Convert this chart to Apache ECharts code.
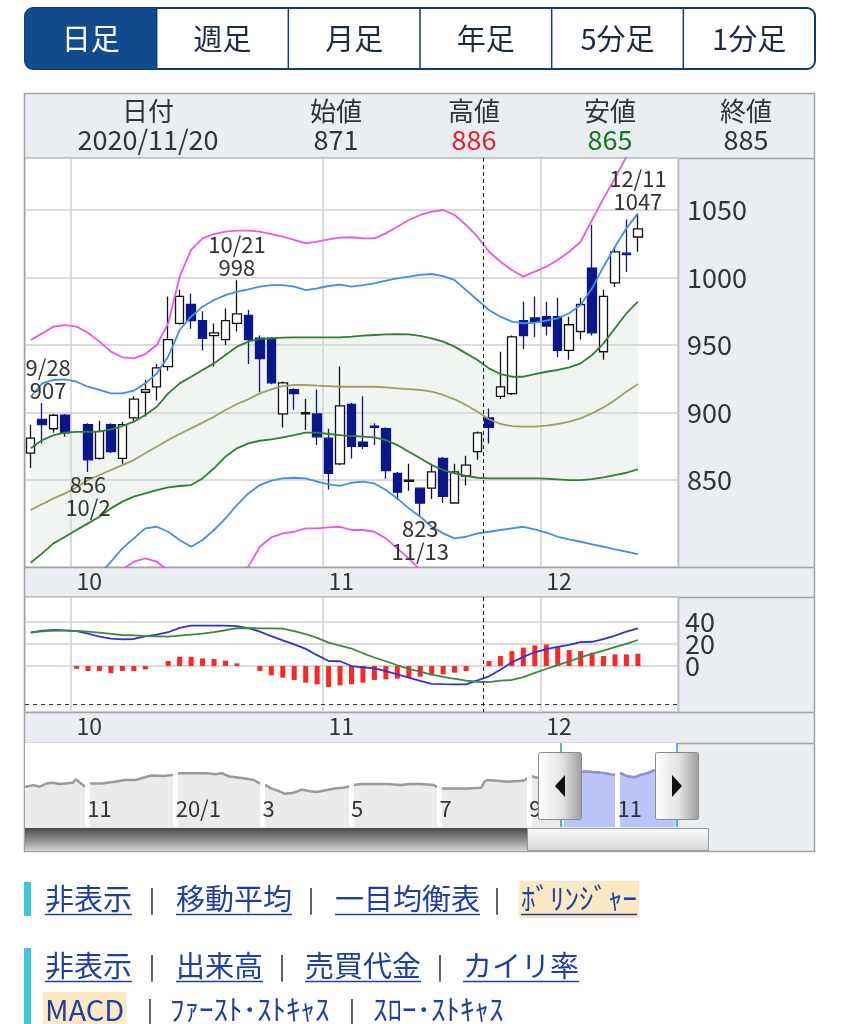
<!DOCTYPE html>
<html><head><meta charset="utf-8">
<script src="https://cdn.jsdelivr.net/npm/echarts@6/dist/echarts.min.js"></script>
<style>html,body{margin:0;padding:0;background:#fff;}#c{width:841px;height:1024px;}</style>
</head><body><div id="c"></div>
<script>
// ---------------- DATA ----------------
const dates = ['9/25','9/28','9/29','9/30','10/1','10/2','10/5','10/6','10/7','10/8','10/9','10/12','10/13','10/14','10/15','10/16','10/19','10/20','10/21','10/22','10/23','10/26','10/27','10/28','10/29','10/30','11/2','11/4','11/5','11/6','11/9','11/10','11/11','11/12','11/13','11/16','11/17','11/18','11/19','11/20','11/24','11/25','11/26','11/27','11/30','12/1','12/2','12/3','12/4','12/7','12/8','12/9','12/10','12/11'];
const padDates = ['12/14','12/15','12/16'];
const opens  = [870,895,888,898,null,891,866,891,866,896,915,919,934,966,980,968,957,954,966,972,955,955,899,917,899,899,881,862,906,878,890,888,855,849,844,844,866,833,853,871,896,912,914,968,970,971,971,946,960,1007,945,996,1018,1030];
const highs  = [891,907,899,899,null,892,894,892,893,912,924,936,986,991,988,975,966,977,998,976,957,956,923,918,910,917,888,934,907,912,892,889,856,862,844,862,867,862,868,886,903,945,957,982,986,982,985,971,985,1039,991,1023,1043,1047];
const lows   = [859,877,885,882,null,856,865,870,862,893,897,909,931,965,962,946,934,950,960,936,915,921,889,902,887,876,843,861,866,873,876,851,835,842,823,836,833,833,846,865,877,910,913,947,956,957,941,939,954,957,939,993,1004,1019];
const closes = [881,891,898,885,null,865,886,871,891,910,917,933,954,986,968,955,959,968,973,954,940,922,922,914,900,882,855,905,875,875,889,857,841,850,833,856,838,856,861,885,889,919,956,957,967,964,946,965,980,959,986,1019,1017,1036];

// Bollinger bands
const bbUp3 = [953.7,958.6,963.6,964.8,963.6,959.1,952.5,945.1,940.9,940.1,943.3,950,966,1000.6,1020.4,1029,1032.2,1034,1034.7,1034.7,1034,1032.2,1030.2,1027.8,1025.3,1026.5,1028.3,1029.5,1029.8,1029,1029,1032.7,1037.6,1042.6,1046.3,1048.8,1050,1046.3,1038.9,1030.2,1019.1,1011.7,1005.6,1000.6,1004.3,1008,1013,1019.1,1026.5,1042.6,1058.6,1073.5,1089.5,1104];
const bbUp2 = [911.7,921.6,924.1,924.6,922.8,919.1,916.7,914.2,914.2,916.2,921.6,929,941.4,961.1,971,978.4,983.3,987,989.5,991.2,993.2,994.4,994.4,993.2,990.7,992,993.7,994.7,993.2,994.4,995.7,997.7,999.4,1000.6,1001.9,1002.6,1001.1,998.1,990.7,983.3,975.9,971,967.3,966.1,966.5,968,969.8,973.5,979.6,992,1008,1022.8,1036.4,1047.5];
const bbUp1 = [873.5,879.6,883.3,885.1,885.6,885.6,885.8,887.5,890,893.2,898.2,904.3,914.2,921.6,926.5,931.5,936.4,942.6,948.8,952.5,954.5,954.9,955.4,955.7,955.7,955.7,955.7,955.7,956.2,956.9,957.4,957.9,958.1,957.9,956.7,954.9,952.5,948.8,943.8,938.9,932.7,928.5,926.5,926.5,928.5,930.2,931.5,933.5,936.4,942.6,951.2,962.4,973.5,982.1];
const bbMid = [827.8,832.2,836.4,840.1,844.6,850,853.7,857.4,861.1,864.8,869.8,874.7,879.6,884.1,888.3,892.5,896.9,901.9,906.3,909.8,914.2,917.2,919.6,920.4,920.4,919.9,919.6,919.1,919.1,919.1,919.1,918.6,917.9,917.4,916.7,915.4,913,909.8,905.6,900.6,895,891.5,890,889.5,889.5,890.3,891.5,893.2,895.7,899.4,903.8,909.3,915.4,921.1];
const bbLow1 = [788.8,795.7,803.1,808,813,817.9,822.8,829,834,837.7,840.1,842.6,844.6,845.6,846.3,851.2,858.7,867.3,873.5,877.2,879.1,880.1,881.6,883.3,885.1,885.1,884.1,883.3,882.6,882.1,881.6,879.6,875.9,871,866.1,861.1,857.4,855,853,851.7,851.2,851.2,851.2,851.2,851.2,851,850.5,850,850,850.7,852,853.7,855.4,857.9];
const bbLow2 = [750,755,760,765,770,775,780,789.5,799.4,806.8,814.2,815.4,811.7,805.6,800.6,805.6,813,821.6,831.5,840.1,846.3,849.5,851.2,851.7,851.2,848.8,846.8,845.6,848,848.8,847.5,842.6,836.4,829,822.8,815.4,810.5,806.8,808,810.5,811.7,813,814.2,815.4,813.5,811,808,806,804.3,802.4,800.6,798.7,796.9,795.2];
const bbLow3 = [711,715,720,725,730,735,740,750,783.8,789.5,792,789.5,782.9,770,765,770,775,780,782.1,785.8,800.6,807.5,810.5,811.7,814.2,814.2,814.9,815.4,813,813,811.7,806.8,799.4,792,783.4,778,772,768,766,765,766,770,773,776,777,778,778,776,775,772,765,755,748,740];

// MACD panel
const macdLine = [30.1,32,32.5,32.2,31.5,29.2,26.5,24.7,24.1,24.4,26.8,28.4,30.5,34.5,36.4,36.4,36.4,36.4,36.1,34.2,31,26.9,23.2,19.6,15.5,9.8,4.5,4.3,0,-1.3,-2.1,-4.7,-7.5,-10.5,-13.5,-16.2,-16.4,-16.5,-16.5,-13,-9.3,-3.4,3.4,8.2,12.4,15.3,17.3,19.1,21.5,21.9,24.2,27.5,31,34];
const signalLine = [30.1,31.2,31.9,31.9,31.7,31.1,30.1,29.1,28,27.6,27.1,26.8,26.5,27.4,28.3,29.2,30.6,32.3,34.1,34.3,34,34,33.7,31.5,28.9,25.4,21.1,18.3,15.8,11.5,7.7,4.3,0.7,-2.6,-5.1,-7.8,-9.7,-11.5,-13.2,-14.2,-14.6,-13.2,-12.6,-10,-6.2,-2.7,0.9,4.2,7.8,11,14,17,20,23.5];
const macdHist = [null,null,null,null,-2.5,-4.5,-4.5,-6.5,-4.5,-4.5,-3,0,4.5,8.4,8.4,6.9,6.3,4.8,2.4,0,-4.5,-8.4,-10.5,-12.6,-15,-16.5,-18.9,-17.4,-16.5,-15,-12.6,-12,-11.4,-10.5,-9.6,-8.4,-7.5,-6,-4.5,0,4.5,9,13.5,16.5,18.6,19.5,17.4,14.4,13.5,12,9,10.5,10.5,11.1];
const macdBaseline = -34.5;

// tick labels
const priceTicks = [850,900,950,1000,1050];
const macdTicks = [0,20,40];
const monthStartCats = ['10/1','11/2','12/1'];
const monthLabels = ['10','11','12'];

// annotations (period highs / lows)
const annotDates  = ['9/28','10/2','10/21','11/13','12/11'];
const annotValues = [907,856,998,823,1047];
const annotKinds  = ['high','low','high','low','high'];

// selected day
const cursorDate = '11/20';
const headerLabels = ['日付','始値','高値','安値','終値'];
const headerValues = ['2020/11/20','871','886','865','885'];

// navigator (long range)
const navDates = ['2019-09-19','2019-09-25','2019-09-29','2019-10-04','2019-10-08','2019-10-13','2019-10-17','2019-10-22','2019-10-24','2019-10-27','2019-10-30','2019-11-03','2019-11-11','2019-11-20','2019-11-27','2019-12-04','2019-12-11','2019-12-15','2019-12-24','2019-12-30','2020-01-04','2020-01-13','2020-01-23','2020-01-28','2020-02-02','2020-02-07','2020-02-17','2020-02-24','2020-02-27','2020-03-03','2020-03-07','2020-03-12','2020-03-16','2020-03-21','2020-03-24','2020-03-28','2020-04-02','2020-04-07','2020-04-11','2020-04-16','2020-04-20','2020-04-25','2020-04-29','2020-05-03','2020-05-08','2020-05-17','2020-05-26','2020-06-04','2020-06-11','2020-06-18','2020-06-27','2020-07-02','2020-07-11','2020-07-20','2020-07-30','2020-08-01','2020-08-03','2020-08-10','2020-08-17','2020-08-27','2020-08-29','2020-09-02','2020-09-05','2020-09-10','2020-09-17','2020-09-25','2020-10-02','2020-10-09','2020-10-16','2020-10-23','2020-10-29','2020-11-03','2020-11-08','2020-11-13','2020-11-17','2020-11-22','2020-11-26','2020-12-04','2020-12-11'];
const navValues = [644,678,644,711,725,698,711,725,792,725,657,711,711,745,779,779,833,867,860,880,914,914,914,894,914,846,813,779,725,678,610,563,509,522,543,590,563,543,563,590,610,624,644,678,698,698,698,678,698,698,678,610,610,610,624,745,779,765,745,765,779,860,833,813,850,881,865,948,934,914,880,914,846,833,880,914,968,980,1036];
const navMonthDates = ['2019-11-01','2020-01-01','2020-03-01','2020-05-01','2020-07-01','2020-09-01','2020-11-01'];
const navMonthLabels = ['11','20/1','3','5','7','9','11'];
const navStart = '2019-09-19', navEnd = '2020-12-12', selStart = '2020-09-23';

const tabs = ['日足','週足','月足','年足','5分足','1分足'];
const linkRows = [
  {y:899, items:[['非表示',45],['|',152],['移動平均',176],['|',311],['一目均衡表',335],['|',497],['ﾎﾞﾘﾝｼﾞｬｰ',521,'hl']]},
  {y:966, items:[['非表示',45],['|',152],['出来高',176],['|',282],['売買代金',305],['|',440],['カイリ率',463]]},
  {y:1010, items:[['MACD',45,'hl'],['|',150],['ﾌｧｰｽﾄ･ｽﾄｷｬｽ',170],['|',352],['ｽﾛｰ･ｽﾄｷｬｽ',373]]}
];

// ---------------- BUILD ----------------
const FONT = '"Noto Sans CJK JP","Noto Sans",sans-serif';
const ts = s => { const [y,m,d] = s.split('-').map(Number); return Date.UTC(y, m-1, d); };
const cats = dates.concat(padDates);
const ohlc = dates.map((d,i) => opens[i] == null ? '-' : [opens[i], closes[i], lows[i], highs[i]]);
const shadeDiff = bbUp1.map((v,i) => +(v - bbLow1[i]).toFixed(2));
const navData = navDates.map((d,i) => [ts(d), navValues[i]]);
const selData = navData.filter(p => p[0] >= ts(selStart));
const navMonthTs = navMonthDates.map(ts);
const GRID_C = '#cfcfcf';
// alternate MACD tick labels between two overlaid axes so that none is hidden
const macdTicksA = macdTicks.filter((v,i)=>i%2===0);
const macdTicksB = macdTicks.filter((v,i)=>i%2===1);

function catAxis(gi){
  return {type:'category', gridIndex:gi, data:cats, boundaryGap:true,
    axisLine:{show:false}, axisTick:{show:false},
    splitLine:{show:true, interval:(i,v)=>monthStartCats.includes(v), lineStyle:{color:GRID_C, width:1.5}},
    axisLabel:{interval:(i,v)=>monthStartCats.includes(v), formatter:(v)=>monthLabels[monthStartCats.indexOf(v)] || '',
      align:'left', color:'#333', fontSize:23, margin:3, fontFamily:FONT}};
}
function cursorSeries(xi, yi){
  return {type:'custom', xAxisIndex:xi, yAxisIndex:yi, silent:true, clip:false, z:6,
    encode:{x:0, y:1}, data:[[cursorDate, 0]],
    renderItem:(params, api)=>{
      const idx = api.value(0);
      const half = api.size([1,0])[0]/2;
      const x = Math.round(api.coord([idx, 0])[0] + half) + 0.5;
      const cs = params.coordSys;
      return {type:'line', shape:{x1:x, y1:cs.y, x2:x, y2:cs.y+cs.height},
        style:{stroke:'#222', lineWidth:1, lineDash:[4,3]}};
    }};
}
function bandLine(data, color){
  return {type:'line', xAxisIndex:0, yAxisIndex:0, data, symbol:'none', silent:true, z:3,
    lineStyle:{color, width:1.8}};
}

const series = [
  {type:'line', xAxisIndex:0, yAxisIndex:0, data:bbLow1, stack:'shade', symbol:'none', silent:true, z:1,
    lineStyle:{opacity:0}},
  {type:'line', xAxisIndex:0, yAxisIndex:0, data:shadeDiff, stack:'shade', symbol:'none', silent:true, z:1,
    lineStyle:{opacity:0}, areaStyle:{color:'rgba(205,222,208,0.42)'}},
  {type:'candlestick', xAxisIndex:0, yAxisIndex:0, data:ohlc, barWidth:9, z:2,
    itemStyle:{color:'#ffffff', color0:'#0b168c', borderColor:'#111', borderColor0:'#0b168c', borderColorDoji:'#111', borderWidth:1.3},
    markPoint:{symbol:'circle', symbolSize:0, silent:true,
      label:{color:'#333', fontSize:22, lineHeight:23, fontFamily:FONT},
      data: annotDates.map((d,i)=>({
        coord:[d, annotValues[i]],
        label:{show:true, position: annotKinds[i]==='high' ? 'top' : 'bottom', distance:1,
          offset: cats.indexOf(d) < 3 ? [6,0] : [0,0],
          formatter: annotKinds[i]==='high' ? (d + '\n' + annotValues[i]) : (annotValues[i] + '\n' + d)}
      }))}},
  bandLine(bbUp3,'#ee55ee'), bandLine(bbUp2,'#3f8ef2'), bandLine(bbUp1,'#2f7f34'),
  bandLine(bbMid,'#a39c66'),
  bandLine(bbLow1,'#2f7f34'), bandLine(bbLow2,'#3f8ef2'), bandLine(bbLow3,'#ee55ee'),
  cursorSeries(0,0),
  {type:'bar', xAxisIndex:1, yAxisIndex:1, data:macdHist, barWidth:5, silent:true, z:2,
    itemStyle:{color:'#ff2626'},
    markLine:{silent:true, symbol:'none', label:{show:false},
      lineStyle:{color:'#333', width:1, type:[4,4]}, data:[{yAxis:macdBaseline}]}},
  {type:'line', xAxisIndex:1, yAxisIndex:1, data:macdLine, symbol:'none', silent:true, z:3, lineStyle:{color:'#3232d2', width:1.8}},
  {type:'line', xAxisIndex:1, yAxisIndex:1, data:signalLine, symbol:'none', silent:true, z:3, lineStyle:{color:'#3d8a3d', width:1.8}},
  cursorSeries(1,1),
  {type:'line', xAxisIndex:2, yAxisIndex:2, data:navData, symbol:'none', silent:true, z:2,
    lineStyle:{color:'#9a9a9a', width:2.5}, areaStyle:{color:'#ebebeb', origin:'start', opacity:1},
    markLine:{silent:true, symbol:'none', label:{show:false}, lineStyle:{color:'#ffffff', width:5, type:'solid', opacity:0.95},
      data: navMonthTs.map(t=>({xAxis:t}))}},
  {type:'line', xAxisIndex:2, yAxisIndex:2, data:selData, symbol:'none', silent:true, z:3,
    lineStyle:{color:'#8d91d8', width:2.5}, areaStyle:{color:'#b9c5f8', origin:'start', opacity:1},
    markLine:{silent:true, symbol:'none', label:{show:false}, lineStyle:{color:'#1c9ccc', width:1.5, type:'solid'},
      data:[{xAxis:ts(selStart)},{xAxis:ts(navEnd)}]}}
];

// ---------------- GRAPHICS (frame, tabs, header, navigator chrome, links) ----------------
const G = [];
G.push({type:'rect', z:-5, shape:{x:24.5,y:93.5,width:790,height:758}, style:{fill:'#eaedf1', stroke:'#a3a3a3', lineWidth:1.5}});
[158,567,597,712,743].forEach(y=>G.push({type:'line', z:-4, shape:{x1:24,y1:y+0.5,x2:815,y2:y+0.5}, style:{stroke:'#a3a3a3', lineWidth:1.5}}));
[[158,567],[597,712]].forEach(([a,b])=>G.push({type:'line', z:-4, shape:{x1:678.5,y1:a,x2:678.5,y2:b}, style:{stroke:'#a3a3a3', lineWidth:1.5}}));

// tab bar
const tabW = 790/6;
G.push({type:'rect', shape:{x:25,y:8,width:790,height:61,r:8}, style:{fill:'#fff', stroke:'#123a78', lineWidth:2}});
G.push({type:'rect', shape:{x:25,y:8,width:tabW,height:61,r:[8,0,0,8]}, style:{fill:'#134a8e'}});
for (let i=1;i<6;i++) G.push({type:'line', shape:{x1:25+tabW*i,y1:8,x2:25+tabW*i,y2:69}, style:{stroke:'#123a78', lineWidth:1.5}});
tabs.forEach((t,i)=>G.push({type:'text', style:{text:t, x:25+tabW*(i+0.5), y:38.5, align:'center', verticalAlign:'middle',
  fill: i===0 ? '#ffffff' : '#1c2a48', font:'29px '+FONT}}));

// header
const hx = [148,336,474,610,746];
const hcol = ['#333','#333','#e5202b','#11771b','#333'];
headerLabels.forEach((t,i)=>{
  G.push({type:'text', style:{text:t, x:hx[i], y:111, align:'center', verticalAlign:'middle', fill:'#333', font:'26px '+FONT}});
  G.push({type:'text', style:{text:headerValues[i], x:hx[i], y:140, align:'center', verticalAlign:'middle', fill:hcol[i], font:'27px '+FONT}});
});

// scrollbar
G.push({type:'rect', z:-3, shape:{x:25,y:828,width:502,height:23},
  style:{fill:{type:'linear',x:0,y:0,x2:0,y2:1,colorStops:[{offset:0,color:'#4a4a4a'},{offset:0.5,color:'#8c8c8c'},{offset:1,color:'#d3d3d3'}]}}});
G.push({type:'rect', z:-3, shape:{x:527.5,y:828.5,width:181,height:22},
  style:{fill:{type:'linear',x:0,y:0,x2:0,y2:1,colorStops:[{offset:0,color:'#fbfbfb'},{offset:1,color:'#d6d6d6'}]}, stroke:'#9a9a9a', lineWidth:1}});

// navigator handles
function handle(x, dir){
  const grad = {type:'linear',x:0,y:0,x2:1,y2:0,colorStops:[{offset:0,color:'#ffffff'},{offset:0.55,color:'#e2e2e2'},{offset:1,color:'#9c9c9c'}]};
  G.push({type:'rect', z:50, shape:{x:x+0.5,y:752.5,width:43,height:67,r:2}, style:{fill:grad, stroke:'#8a8a8a', lineWidth:1}});
  const cx = x+22;
  const pts = dir<0 ? [[cx-5,786],[cx+5,775],[cx+5,797]] : [[cx+5,786],[cx-5,775],[cx-5,797]];
  G.push({type:'polygon', z:51, shape:{points:pts}, style:{fill:'#111'}});
}
handle(538,-1); handle(655,1);

// link rows
const mctx = document.createElement('canvas').getContext('2d');
const tw = (t,f)=>{ mctx.font = f; return mctx.measureText(t).width; };
G.push({type:'rect', shape:{x:24,y:882,width:7,height:34}, style:{fill:'#3ec6da'}});
G.push({type:'rect', shape:{x:24,y:948,width:7,height:76}, style:{fill:'#3ec6da'}});
linkRows.forEach(row=>{
  row.items.forEach(([t,x,flag])=>{
    if (t==='|') {
      G.push({type:'text', style:{text:'|', x, y:row.y, align:'center', verticalAlign:'middle', fill:'#333', font:'24px '+FONT}});
      return;
    }
    const f = '29px '+FONT;
    const w = tw(t,f);
    if (flag==='hl') G.push({type:'rect', shape:{x:x-2,y:row.y-18,width:w+4,height:37}, style:{fill:'#fbe9c4'}});
    G.push({type:'text', style:{text:t, x, y:row.y, align:'left', verticalAlign:'middle', fill:'#1f3fa3', font:f}});
    if (t!=='MACD') G.push({type:'line', shape:{x1:x,y1:row.y+15.5,x2:x+w,y2:row.y+15.5}, style:{stroke:'#1f3fa3', lineWidth:1.5}});
  });
});

// ---------------- OPTION ----------------
const plainNum = v => String(v);
const MACD_MIN = -41.5, MACD_MAX = 62.3;
const option = {
  animation:false,
  backgroundColor:'#ffffff',
  textStyle:{fontFamily:FONT},
  grid:[
    {left:25, top:158, width:653, height:409, show:true, backgroundColor:'#fff', borderColor:'#a3a3a3', borderWidth:1, outerBoundsMode:'none', containLabel:false},
    {left:25, top:597, width:653, height:115, show:true, backgroundColor:'#fff', borderColor:'#a3a3a3', borderWidth:1, outerBoundsMode:'none', containLabel:false},
    {left:25, top:743, width:652, height:84, show:true, backgroundColor:'#fff', borderWidth:0, outerBoundsMode:'none', containLabel:false}
  ],
  xAxis:[
    catAxis(0), catAxis(1),
    {type:'value', gridIndex:2, min:ts(navStart), max:ts(navEnd), z:10,
      axisLine:{show:false}, axisTick:{show:false}, splitLine:{show:false},
      axisLabel:{customValues:navMonthTs, formatter:(v)=>navMonthLabels[navMonthTs.indexOf(v)] || '',
        inside:true, align:'left', margin:7, color:'#333', fontSize:22, fontFamily:FONT}}
  ],
  yAxis:[
    {type:'value', gridIndex:0, position:'right', min:785.6, max:1088.5,
      axisLine:{show:false}, axisTick:{show:false, customValues:priceTicks},
      axisLabel:{customValues:priceTicks, formatter:plainNum, color:'#333', fontSize:27, margin:9, fontFamily:FONT, hideOverlap:false},
      splitLine:{show:true, lineStyle:{color:GRID_C, width:1.5}}},
    {type:'value', gridIndex:1, position:'right', min:MACD_MIN, max:MACD_MAX,
      axisLine:{show:false}, axisTick:{show:false, customValues:macdTicks},
      axisLabel:{customValues:macdTicksA, formatter:plainNum, color:'#333', fontSize:27, margin:7, fontFamily:FONT, hideOverlap:false},
      splitLine:{show:true, lineStyle:{color:GRID_C, width:1.5}}},
    {type:'value', gridIndex:2, min:-150, max:1510, show:false, splitLine:{show:false}},
    {type:'value', gridIndex:1, position:'right', offset:0, min:MACD_MIN, max:MACD_MAX,
      axisLine:{show:false}, axisTick:{show:false, customValues:macdTicksB},
      axisLabel:{customValues:macdTicksB, formatter:plainNum, color:'#333', fontSize:27, margin:7, fontFamily:FONT, hideOverlap:false},
      splitLine:{show:false}}
  ],
  series,
  graphic:{elements:G}
};
const chart = echarts.init(document.getElementById('c'), null, {renderer:'canvas', width:841, height:1024});
chart.setOption(option);
</script>
</body></html>
